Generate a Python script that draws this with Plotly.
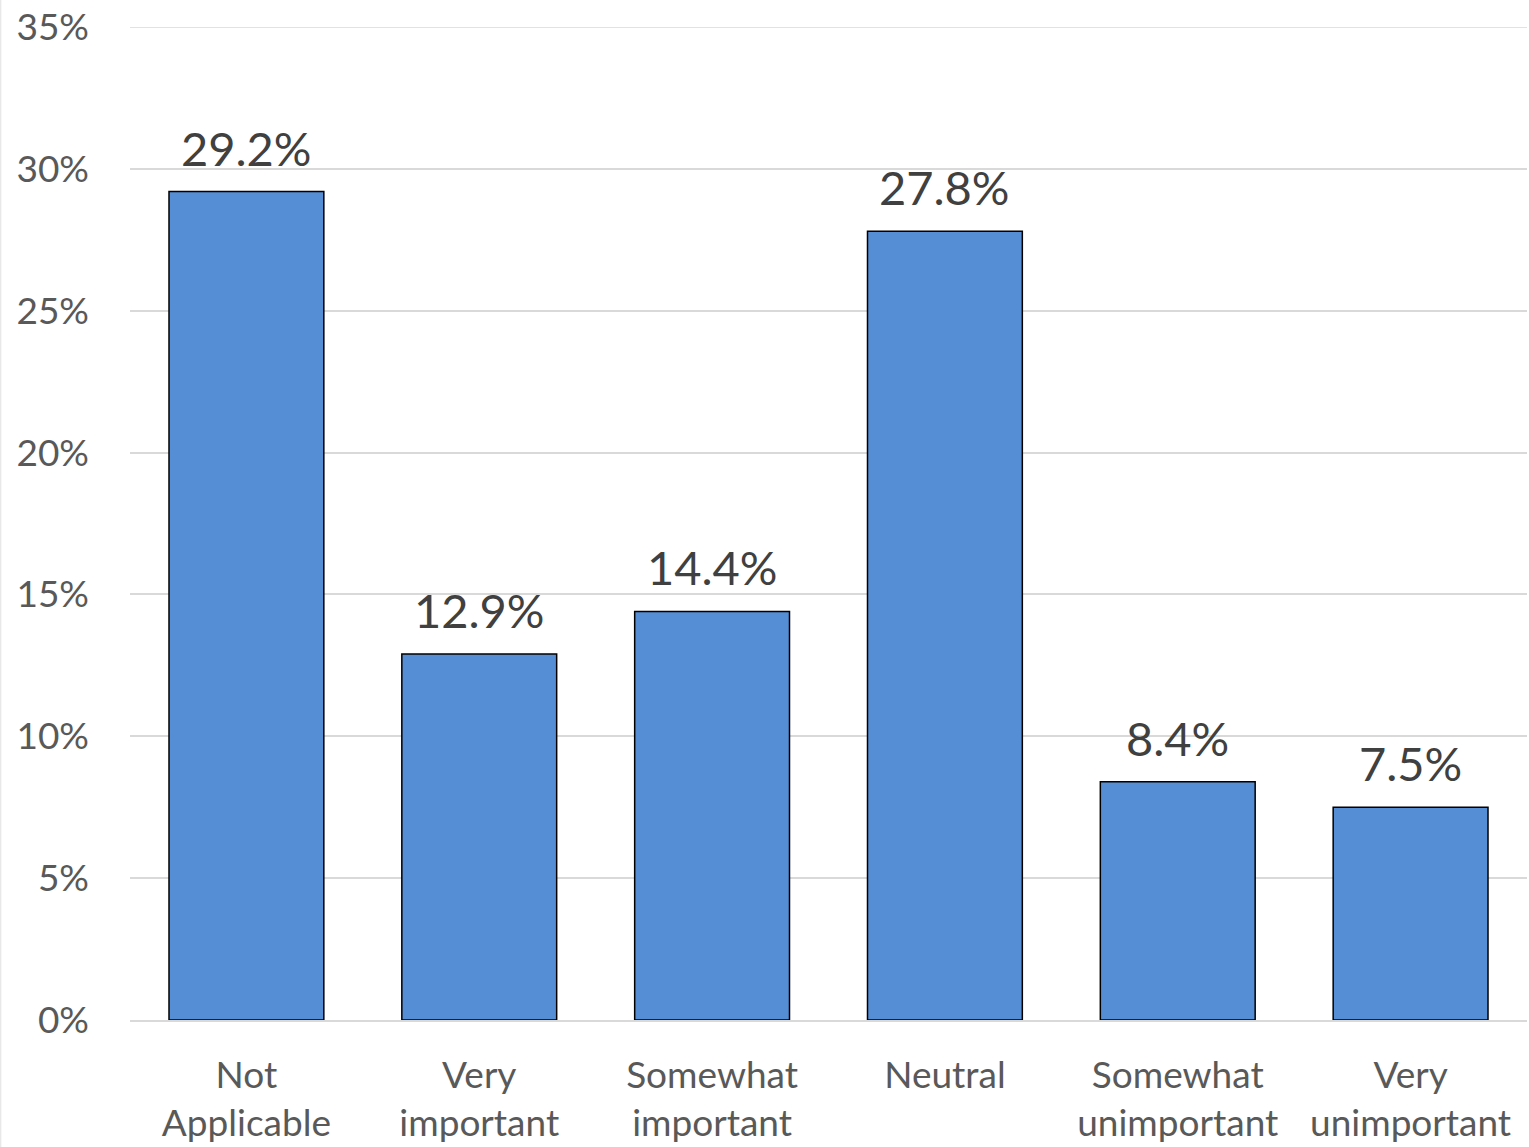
import plotly.graph_objects as go

categories = ["Not<br>Applicable", "Very<br>important", "Somewhat<br>important", "Neutral",
              "Somewhat<br>unimportant", "Very<br>unimportant"]
values = [29.2, 12.9, 14.4, 27.8, 8.4, 7.5]
tick_vals = [0, 5, 10, 15, 20, 25, 30, 35]
tick_text = ["0%", "5%", "10%", "15%", "20%", "25%", "30%", "35%"]

FONT = "Lato, 'Open Sans', sans-serif"

fig = go.Figure()
fig.add_trace(go.Bar(
    x=categories, y=values,
    marker=dict(color="#558ED5", line=dict(color="#000000", width=1.5)),
    width=0.665,
    hoverinfo="skip",
))

for c, v in zip(categories, values):
    fig.add_annotation(x=c, y=v, text=f"{v:.1f}%", showarrow=False,
                       yanchor="bottom", yshift=14,
                       font=dict(family=FONT, size=47, color="#404040"))

fig.update_layout(
    width=1529, height=1147,
    margin=dict(l=130, r=2, t=27, b=127, autoexpand=False),
    paper_bgcolor="white", plot_bgcolor="white",
    showlegend=False,
    bargap=0.335,
    font=dict(family=FONT),
)
fig.update_xaxes(
    automargin=False,
    showgrid=False, showline=True, linecolor="#D9D9D9", linewidth=1.5,
    tickfont=dict(family=FONT, size=37, color="#595959"),
    ticks="", ticklabelstandoff=22,
)
fig.update_yaxes(
    automargin=False,
    range=[0, 35], tickvals=tick_vals, ticktext=tick_text,
    showgrid=True, gridcolor="#D9D9D9", gridwidth=1.5,
    zeroline=False, showline=False,
    tickfont=dict(family=FONT, size=37, color="#595959"),
    ticks="", ticklabelstandoff=40,
)
fig.add_shape(type="line", xref="paper", yref="y", x0=0, x1=1, y0=tick_vals[-1], y1=tick_vals[-1],
              line=dict(color="#D9D9D9", width=1.5), layer="below")
fig.add_shape(type="line", xref="paper", yref="paper", x0=-0.0925, x1=-0.0925, y0=-0.2, y1=1.05,
              line=dict(color="#E0E0E0", width=1))

fig.write_html("out.html", config={"displayModeBar": False},
               post_script="document.body.style.margin='0';document.body.style.overflow='hidden';")
